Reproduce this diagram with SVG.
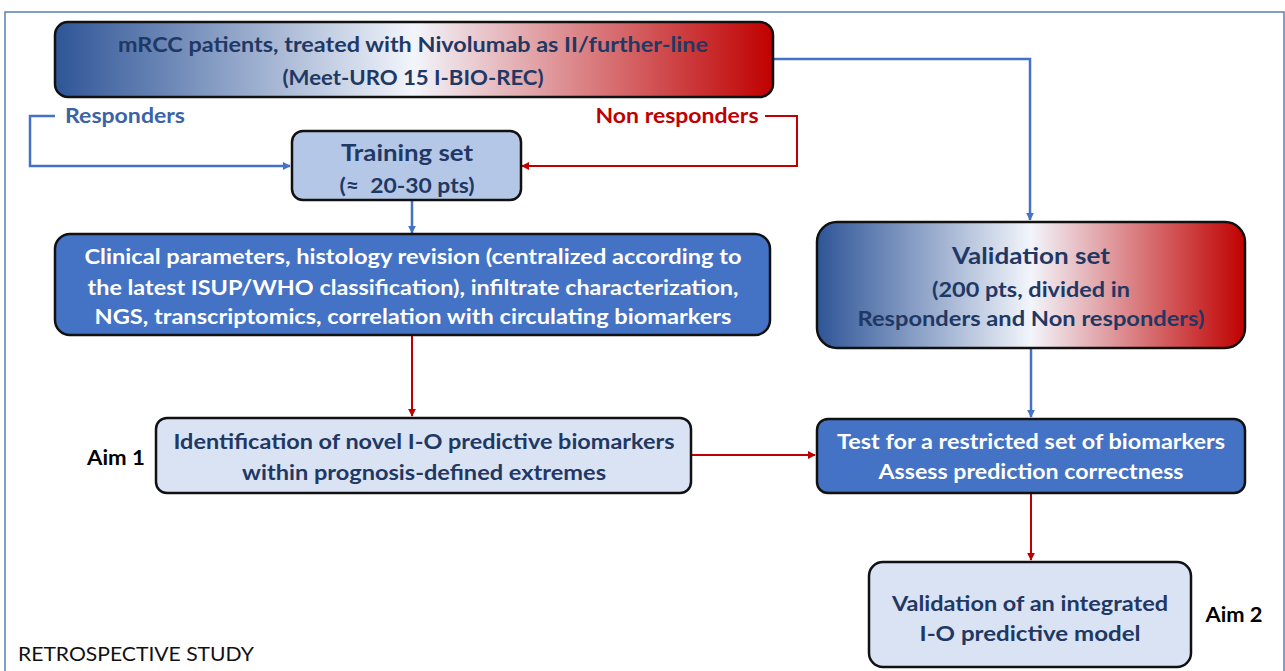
<svg xmlns="http://www.w3.org/2000/svg" width="1285" height="671" viewBox="0 0 1285 671">
<defs>
<linearGradient id="grad" x1="0" y1="0" x2="1" y2="0">
<stop offset="0" stop-color="#2F5597"/>
<stop offset="0.5" stop-color="#F2F5FB"/>
<stop offset="1" stop-color="#C00000"/>
</linearGradient>
<marker id="ab" viewBox="0 0 10 10" refX="9" refY="5" markerWidth="8" markerHeight="8" markerUnits="userSpaceOnUse" orient="auto">
<path d="M0,0 L10,5 L0,10 z" fill="#4472C4"/>
</marker>
<marker id="ar" viewBox="0 0 10 10" refX="9" refY="5" markerWidth="8" markerHeight="8" markerUnits="userSpaceOnUse" orient="auto">
<path d="M0,0 L10,5 L0,10 z" fill="#C00000"/>
</marker>
<style>
.box{stroke:#111;stroke-width:2.5}
.t{font-family:Lato,"Open Sans","Liberation Sans",sans-serif;font-weight:bold;text-anchor:middle}
.navy{fill:#1F3864}
.white{fill:#FFFFFF}
.blue{stroke:#4472C4;stroke-width:2.5;fill:none}
.red{stroke:#C00000;stroke-width:2;fill:none}
</style>
</defs>
<rect x="5" y="12" width="1279" height="680" fill="#FFFFFF" stroke="#5B7DB8" stroke-width="1.5"/>

<g id="connectors">
<path class="blue" d="M773,59 H1030 V220" marker-end="url(#ab)"/>
<path class="blue" d="M55,116 H30 V166 H290" marker-end="url(#ab)"/>
<path class="red" d="M765,116 H797 V166 H522" marker-end="url(#ar)"/>
<path class="blue" d="M412,200 V233" marker-end="url(#ab)"/>
<path class="red" d="M412,335 V416" marker-end="url(#ar)"/>
<path class="red" d="M691,455 H815" marker-end="url(#ar)"/>
<path class="blue" d="M1031,348 V417" marker-end="url(#ab)"/>
<path class="red" d="M1031,493 V560" marker-end="url(#ar)"/>
</g>

<g id="top">
<rect class="box" x="55" y="22" width="718" height="75" rx="13" fill="url(#grad)"/>
<text class="t navy" x="413" y="52" font-size="21" textLength="590" lengthAdjust="spacingAndGlyphs">mRCC patients, treated with Nivolumab as II/further-line</text>
<text class="t navy" x="413" y="85" font-size="21" textLength="261" lengthAdjust="spacingAndGlyphs">(Meet-URO 15 I-BIO-REC)</text>
</g>

<g id="responders">
<text class="t" x="125" y="123" font-size="21" fill="#3B64A8" textLength="120" lengthAdjust="spacingAndGlyphs">Responders</text>
</g>
<g id="nonresponders">
<text class="t" x="677" y="123" font-size="21" fill="#C00000" textLength="163" lengthAdjust="spacingAndGlyphs">Non responders</text>
</g>

<g id="training">
<rect class="box" x="292" y="131" width="229" height="69" rx="11" fill="#B4C7E7"/>
<text class="t navy" x="407" y="161" font-size="22" textLength="132" lengthAdjust="spacingAndGlyphs">Training set</text>
<text class="t navy" x="407" y="193" font-size="21" textLength="135" lengthAdjust="spacingAndGlyphs">(≈&#160; 20-30 pts)</text>
</g>

<g id="clinical">
<rect class="box" x="55" y="234" width="715" height="101" rx="15" fill="#4472C4"/>
<text class="t white" x="413" y="264" font-size="21" textLength="657" lengthAdjust="spacingAndGlyphs">Clinical parameters, histology revision (centralized according to</text>
<text class="t white" x="413" y="295" font-size="21" textLength="651" lengthAdjust="spacingAndGlyphs">the latest ISUP/WHO classification), infiltrate characterization,</text>
<text class="t white" x="413" y="324" font-size="21" textLength="637" lengthAdjust="spacingAndGlyphs">NGS, transcriptomics, correlation with circulating biomarkers</text>
</g>

<g id="aim1">
<rect class="box" x="156" y="418" width="535" height="75" rx="11" fill="#DAE3F3"/>
<text class="t navy" x="424" y="449" font-size="21" textLength="501" lengthAdjust="spacingAndGlyphs">Identification of novel I-O predictive biomarkers</text>
<text class="t navy" x="424" y="480" font-size="21" textLength="364" lengthAdjust="spacingAndGlyphs">within prognosis-defined extremes</text>
</g>
<g id="aim1label">
<text class="t" x="116" y="465" font-size="20" fill="#000" textLength="58" lengthAdjust="spacingAndGlyphs">Aim 1</text>
</g>

<g id="validation">
<rect class="box" x="817" y="222" width="428" height="126" rx="20" fill="url(#grad)"/>
<text class="t navy" x="1031" y="264" font-size="23" textLength="158" lengthAdjust="spacingAndGlyphs">Validation set</text>
<text class="t navy" x="1031" y="297" font-size="20" textLength="198" lengthAdjust="spacingAndGlyphs">(200 pts, divided in</text>
<text class="t navy" x="1031" y="326" font-size="20" textLength="347" lengthAdjust="spacingAndGlyphs">Responders and Non responders)</text>
</g>

<g id="test">
<rect class="box" x="817" y="419" width="428" height="74" rx="11" fill="#4472C4"/>
<text class="t white" x="1031" y="449" font-size="20" textLength="388" lengthAdjust="spacingAndGlyphs">Test for a restricted set of biomarkers</text>
<text class="t white" x="1031" y="479" font-size="20" textLength="305" lengthAdjust="spacingAndGlyphs">Assess prediction correctness</text>
</g>

<g id="final">
<rect class="box" x="869" y="562" width="322" height="105" rx="14" fill="#DAE3F3"/>
<text class="t navy" x="1030" y="611" font-size="21" textLength="276" lengthAdjust="spacingAndGlyphs">Validation of an integrated</text>
<text class="t navy" x="1030" y="641" font-size="21" textLength="221" lengthAdjust="spacingAndGlyphs">I-O predictive model</text>
</g>
<g id="aim2label">
<text class="t" x="1234" y="622" font-size="20" fill="#000" textLength="57" lengthAdjust="spacingAndGlyphs">Aim 2</text>
</g>

<g id="study">
<text x="18" y="661" font-family="Lato,'Open Sans','Liberation Sans',sans-serif" font-size="20" fill="#111" textLength="236" lengthAdjust="spacingAndGlyphs">RETROSPECTIVE STUDY</text>
</g>
</svg>
